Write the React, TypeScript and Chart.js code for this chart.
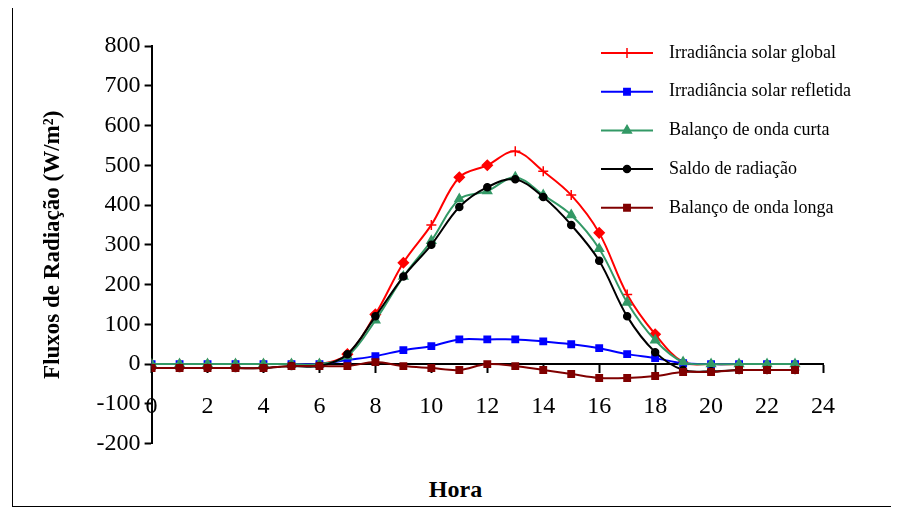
import React, { useEffect, useRef } from "react";
import { Chart, registerables } from "chart.js";
import { drawPoint } from "chart.js/helpers";

Chart.register(...registerables);

const hours = [0, 1, 2, 3, 4, 5, 6, 7, 8, 9, 10, 11, 12, 13, 14, 15, 16, 17, 18, 19, 20, 21, 22, 23];
const globalRad = [0, 0, 0, 0, 0, 0, 0, 25, 125, 255, 350, 470, 500, 535, 485, 425, 330, 175, 75, 5, 0, 0, 0, 0];
const reflected = [0, 0, 0, 0, 0, 0, 0, 10, 20, 35, 45, 62, 62, 62, 57, 50, 40, 25, 15, 2, 0, 0, 0, 0];
const shortWave = [0, 0, 0, 0, 0, 0, 0, 20, 110, 220, 310, 415, 435, 470, 425, 375, 290, 155, 60, 5, 0, 0, 0, 0];
const netRad = [-10, -10, -10, -10, -10, -5, -5, 25, 120, 220, 300, 395, 445, 465, 420, 350, 260, 120, 30, -15, -18, -15, -15, -15];
const longWave = [-10, -10, -10, -10, -10, -5, -5, -5, 5, -5, -10, -15, 0, -5, -15, -25, -35, -35, -30, -20, -20, -15, -15, -15];
const redStyles = ["cross", "cross", "cross", "cross", "cross", "cross", "cross", "rectRot", "rectRot", "rectRot", "cross", "rectRot", "rectRot", "cross", "cross", "cross", "rectRot", "cross", "rectRot", "cross", "cross", "cross", "cross", "cross"];

const FONT = "'Liberation Serif', 'Times New Roman', serif";

const series = [
  { label: "Irradiância solar global", data: globalRad, color: "#ff0000", style: "cross", radius: 5 },
  { label: "Irradiância solar refletida", data: reflected, color: "#0000ff", style: "rect", radius: 4.5 },
  { label: "Balanço de onda curta", data: shortWave, color: "#339966", style: "triangle", radius: 5 },
  { label: "Saldo de radiação", data: netRad, color: "#000000", style: "circle", radius: 3.5 },
  { label: "Balanço de onda longa", data: longWave, color: "#800000", style: "rect", radius: 4.5 },
];

const legendPlugin = {
  id: "innerLegend",
  afterDraw(chart: any) {
    const ctx = chart.ctx;
    ctx.save();
    series.forEach((s, i) => {
      const y = 47 + i * 38.7;
      const x0 = 588, x1 = 640;
      ctx.strokeStyle = s.color;
      ctx.lineWidth = 2;
      ctx.beginPath();
      ctx.moveTo(x0, y);
      ctx.lineTo(x1, y);
      ctx.stroke();
      ctx.fillStyle = s.color;
      ctx.strokeStyle = s.color;
      ctx.lineWidth = 1.5;
      drawPoint(ctx, { pointStyle: s.style as any, radius: s.radius, rotation: 0, borderWidth: 1.5 }, (x0 + x1) / 2, y);
      ctx.fillStyle = "#000";
      ctx.font = `18px ${FONT}`;
      ctx.textBaseline = "middle";
      ctx.fillText(s.label, 656, y);
    });
    ctx.restore();
  },
};

export default function App() {
  const chartRef = useRef<HTMLCanvasElement>(null);
  useEffect(() => {
    if (!chartRef.current) return;
    const datasets = series.map((s, i) => ({
      label: s.label,
      data: s.data.map((v, k) => ({ x: hours[k], y: v })),
      borderColor: s.color,
      backgroundColor: s.color,
      borderWidth: 2,
      pointStyle: i === 0 ? redStyles : s.style,
      pointRadius: s.radius,
      pointBorderWidth: 1.5,
      tension: 0.35,
      order: 5 - i,
    }));
    const config: any = {
      type: "line",
      data: { datasets },
      plugins: [legendPlugin],
      options: {
        animation: false,
        responsive: true,
        maintainAspectRatio: false,
        layout: { padding: { left: 26, right: 75, top: 40, bottom: 10 } },
        plugins: { legend: { display: false }, tooltip: { enabled: false } },
        scales: {
          x: {
            type: "linear",
            min: 0,
            max: 24,
            position: { y: 0 },
            ticks: { stepSize: 2, color: "#000", font: { family: FONT, size: 24 }, padding: 20 },
            grid: { display: true, drawOnChartArea: false, drawTicks: true, tickLength: 8, tickColor: "#000", tickWidth: 2 },
            border: { color: "#000", width: 2 },
          },
          y: {
            min: -200,
            max: 800,
            ticks: { stepSize: 100, color: "#000", font: { family: FONT, size: 24 }, padding: 4 },
            grid: { display: true, drawOnChartArea: false, drawTicks: true, tickLength: 7, tickColor: "#000", tickWidth: 2 },
            border: { color: "#000", width: 2 },
            title: { display: true, text: "Fluxos de Radiação (W/m²)", color: "#000", font: { family: FONT, size: 23, weight: "bold" }, padding: { top: 0, bottom: 26 } },
          },
        },
      },
    };
    const chart = new Chart(chartRef.current.getContext("2d")!, config);
    return () => chart.destroy();
  }, []);
  return (
    <div style={{ position: "relative", width: 885, height: 502, marginLeft: 4, marginTop: -3, border: "1px solid #000", boxSizing: "border-box", background: "#fff" }}>
      <div style={{ position: "absolute", left: 0, top: 0, width: 885, height: 456 }}>
        <canvas ref={chartRef}></canvas>
      </div>
      <div style={{ position: "absolute", left: 0, width: 885, top: 470, textAlign: "center", fontFamily: FONT, fontWeight: "bold", fontSize: 24 }}>Hora</div>
    </div>
  );
}
